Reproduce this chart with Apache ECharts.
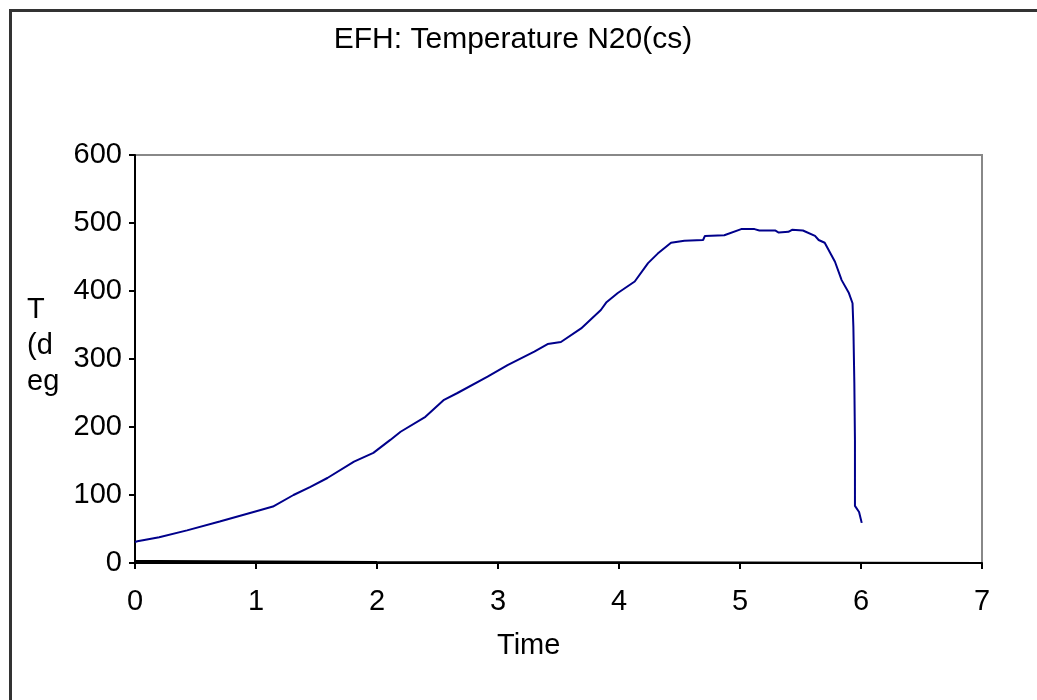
<!DOCTYPE html>
<html>
<head>
<meta charset="utf-8">
<script src="https://cdn.jsdelivr.net/npm/echarts@6/dist/echarts.min.js"></script>
<style>
html,body{margin:0;padding:0;background:#fff;}
#chart{width:1037px;height:700px;}
</style>
</head>
<body>
<div id="chart"></div>
<script>
const titleText = 'EFH: Temperature N20(cs)';
const xAxisName = 'Time';
const yAxisNameLines = ['T', '(d', 'eg'];

const times = [0, 0.02, 0.2, 0.43, 0.70, 0.98, 1.14, 1.31, 1.45, 1.59, 1.81, 1.97, 2.11, 2.195, 2.40, 2.554, 2.665, 2.914, 3.079, 3.30, 3.41, 3.52, 3.687, 3.85, 3.894, 3.99, 4.13, 4.24, 4.32, 4.43, 4.54, 4.695, 4.71, 4.87, 5.01, 5.12, 5.16, 5.29, 5.32, 5.40, 5.43, 5.52, 5.62, 5.65, 5.70, 5.785, 5.84, 5.90, 5.93, 5.937, 5.945, 5.95, 5.95, 5.984, 6.006];
const temps = [31, 32, 38, 48, 61, 75, 83, 100, 112, 125, 149, 162, 181, 193, 215, 240, 250, 274, 291, 311, 322, 325, 345, 372, 383, 397, 414, 441, 455, 471, 474, 475, 481, 482, 491, 491, 489, 489, 486, 487, 490, 489, 481, 475, 471, 443, 416, 397, 382, 347, 264, 181, 84, 75, 59];

const baseTimes = [0, 0.2, 2, 4, 6, 7];
const baseTemps = [3, 3, 1.5, 1, 0.5, 0];

const xTicks = [0, 1, 2, 3, 4, 5, 6, 7];
const yTicks = [0, 100, 200, 300, 400, 500, 600];

const font = '"Liberation Sans", Arial, sans-serif';

const chart = echarts.init(document.getElementById('chart'));
chart.setOption({
  animation: false,
  backgroundColor: '#fff',
  title: {
    text: titleText,
    left: 508, top: 20, textAlign: 'center',
    textStyle: {fontFamily: font, fontSize: 30, fontWeight: 'normal', color: '#000'}
  },
  grid: {
    left: 135, right: 55, top: 155, bottom: 137,
    show: true, borderColor: '#888', borderWidth: 2, backgroundColor: '#fff'
  },
  xAxis: {
    type: 'value',
    min: xTicks[0], max: xTicks[xTicks.length - 1], interval: 1,
    axisLine: {show: true, onZero: false, lineStyle: {color: '#000', width: 2}},
    axisTick: {show: true, length: 6, lineStyle: {color: '#000', width: 2}},
    axisLabel: {fontFamily: font, fontSize: 29, color: '#000', margin: 24},
    splitLine: {show: false}
  },
  yAxis: {
    type: 'value',
    min: yTicks[0], max: yTicks[yTicks.length - 1], interval: 100,
    axisLine: {show: true, onZero: false, lineStyle: {color: '#000', width: 2}},
    axisTick: {show: true, length: 6, lineStyle: {color: '#000', width: 2}},
    axisLabel: {fontFamily: font, fontSize: 29, color: '#000', margin: 13},
    splitLine: {show: false}
  },
  graphic: [
    {type: 'rect', left: 8, top: 8, shape: {width: 1100, height: 800}, style: {fill: 'none', stroke: '#333', lineWidth: 3}, silent: true},
    {type: 'text', left: 497, top: 631, style: {text: xAxisName, font: '29px ' + font, fill: '#000'}},
    {type: 'text', left: 27, top: 292, style: {text: yAxisNameLines.join('\n'), font: '29px ' + font, fill: '#000', lineHeight: 36}}
  ],
  series: [
    {
      type: 'line', showSymbol: false, symbol: 'none',
      data: baseTimes.map((t, i) => [t, baseTemps[i]]),
      lineStyle: {color: '#000', width: 2}, z: 3
    },
    {
      type: 'line', showSymbol: false, symbol: 'none',
      data: times.map((t, i) => [t, temps[i]]),
      lineStyle: {color: '#00008b', width: 2}, z: 4
    }
  ]
});
</script>
</body>
</html>
